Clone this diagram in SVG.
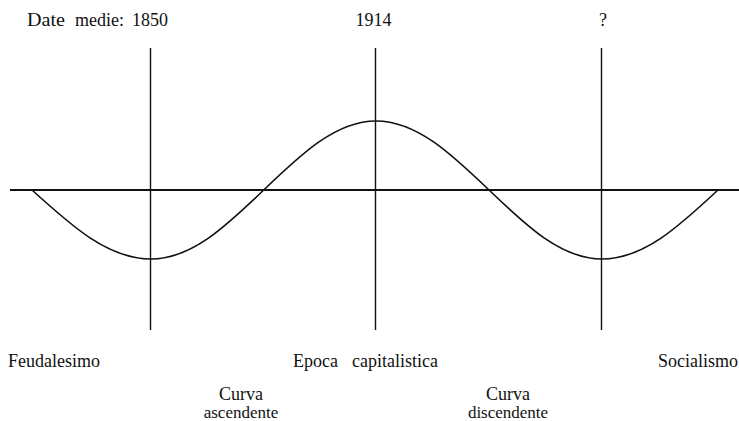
<svg xmlns="http://www.w3.org/2000/svg" width="739" height="421" viewBox="0 0 739 421">
<style>
text{font-family:"Liberation Serif","DejaVu Serif",serif;font-size:18px;fill:#111}
.ax{stroke:#111;stroke-width:2.2;fill:none}
.v{stroke:#111;stroke-width:1.4;fill:none}
.c{stroke:#111;stroke-width:1.6;fill:none}
.m{text-anchor:middle}
.s{font-size:17px}
</style>
<rect width="739" height="421" fill="#fff"/>
<g id="labels-top">
<text y="26"><tspan x="27" textLength="38" lengthAdjust="spacingAndGlyphs">Date</tspan><tspan x="75">medie:</tspan><tspan x="132">1850</tspan></text>
<text x="373.5" y="26" class="m">1914</text>
<text x="603" y="26" class="m">?</text>
</g>
<g id="connectors">
<line class="ax" x1="10" y1="190" x2="739" y2="190"/>
<line class="v" x1="150.5" y1="48" x2="150.5" y2="330"/>
<line class="v" x1="375.5" y1="48" x2="375.5" y2="330"/>
<line class="v" x1="601.5" y1="48" x2="601.5" y2="330"/>
<path class="c" d="M32,190 C71.8,226.2 108.2,259 151,259 C191.6,259 226.1,226.2 263.75,190 C301.4,153.8 335.9,121 376,121 C416.7,121 451.2,153.8 489,190 C526.8,226.2 561.3,259 602,259 C643.7,259 679.2,226.2 718,190"/>
</g>
<g id="feudalesimo"><text x="8" y="367">Feudalesimo</text></g>
<g id="epoca"><text y="367"><tspan x="293">Epoca</tspan><tspan x="352">capitalistica</tspan></text></g>
<g id="socialismo"><text x="658" y="367">Socialismo</text></g>
<g id="ascendente">
<text x="241" y="400" class="m">Curva</text>
<text x="241" y="418" class="m s">ascendente</text>
</g>
<g id="discendente">
<text x="508" y="400" class="m">Curva</text>
<text x="508" y="418" class="m s">discendente</text>
</g>
</svg>
